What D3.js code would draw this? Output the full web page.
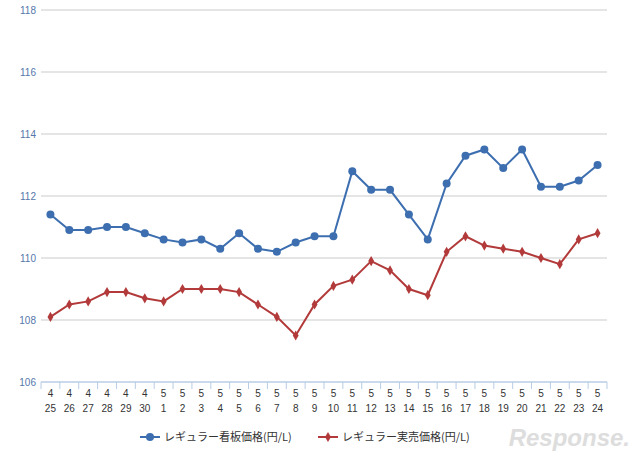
<!DOCTYPE html><html><head><meta charset="utf-8"><script src="https://cdn.jsdelivr.net/npm/d3@7"></script>
<style>body{margin:0;background:#fff}</style></head><body><svg id="c" width="640" height="459"></svg>
<script>
const months=["4","4","4","4","4","4","5","5","5","5","5","5","5","5","5","5","5","5","5","5","5","5","5","5","5","5","5","5","5","5"];
const days=["25","26","27","28","29","30","1","2","3","4","5","6","7","8","9","10","11","12","13","14","15","16","17","18","19","20","21","22","23","24"];
const signPrice=[111.4,110.9,110.9,111.0,111.0,110.8,110.6,110.5,110.6,110.3,110.8,110.3,110.2,110.5,110.7,110.7,112.8,112.2,112.2,111.4,110.6,112.4,113.3,113.5,112.9,113.5,112.3,112.3,112.5,113.0];
const realPrice=[108.1,108.5,108.6,108.9,108.9,108.7,108.6,109.0,109.0,109.0,108.9,108.5,108.1,107.5,108.5,109.1,109.3,109.9,109.6,109.0,108.8,110.2,110.7,110.4,110.3,110.2,110.0,109.8,110.6,110.8];
const yTicks=[106,108,110,112,114,116,118];
const seriesNames=["レギュラー看板価格(円/L)","レギュラー実売価格(円/L)"];
const svg=d3.select("#c");
const L=41,R=607,T=10,B=382;
const x=d3.scaleBand().domain(days.map((d,i)=>i)).range([L,R]);
const y=d3.scaleLinear().domain([106,118]).range([B,T]);
const font="Liberation Sans, Arial, sans-serif";
svg.append("g").selectAll("line").data(yTicks.slice(1)).join("line")
 .attr("x1",L).attr("x2",R).attr("y1",d=>y(d)).attr("y2",d=>y(d)).attr("stroke","#dcdcdc").attr("stroke-width",1.3);
svg.append("g").selectAll("text").data(yTicks).join("text").attr("x",36).attr("y",d=>y(d)+4)
 .attr("text-anchor","end").attr("font-family",font).attr("font-size",10).attr("fill","#5577aa").text(d=>d);
svg.append("line").attr("x1",L).attr("x2",R).attr("y1",B).attr("y2",B).attr("stroke","#b8cce4").attr("stroke-width",1.3);
svg.append("g").selectAll("line").data(d3.range(31)).join("line")
 .attr("x1",i=>L+i*x.step()).attr("x2",i=>L+i*x.step()).attr("y1",B).attr("y2",B+7).attr("stroke","#b8cce4");
const xl=svg.append("g").selectAll("text").data(days).join("text").attr("text-anchor","middle")
 .attr("font-family",font).attr("font-size",10).attr("fill","#333");
xl.append("tspan").attr("x",(d,i)=>x(i)+x.bandwidth()/2).attr("y",397).text((d,i)=>months[i]);
xl.append("tspan").attr("x",(d,i)=>x(i)+x.bandwidth()/2).attr("y",412).text(d=>d);
const cx=i=>x(i)+x.bandwidth()/2;
const line=d3.line().x((d,i)=>cx(i)).y(d=>y(d));
svg.append("path").datum(signPrice).attr("d",line).attr("fill","none").attr("stroke","#3d6fb0").attr("stroke-width",2);
svg.append("g").selectAll("circle").data(signPrice).join("circle").attr("cx",(d,i)=>cx(i)).attr("cy",d=>y(d)).attr("r",4).attr("fill","#3d6fb0");
svg.append("path").datum(realPrice).attr("d",line).attr("fill","none").attr("stroke","#b23a3a").attr("stroke-width",2);
const dia=d3.symbol().type(d3.symbolDiamond).size(30);
svg.append("g").selectAll("path").data(realPrice).join("path").attr("d",dia).attr("transform",(d,i)=>`translate(${cx(i)},${y(d)})`).attr("fill","#b23a3a");
// legend
const lg=svg.append("g");
lg.append("line").attr("x1",140).attr("x2",160).attr("y1",437).attr("y2",437).attr("stroke","#3d6fb0").attr("stroke-width",2);
lg.append("circle").attr("cx",150).attr("cy",437).attr("r",4).attr("fill","#3d6fb0");
lg.append("text").attr("x",164).attr("y",441).attr("font-family","Noto Sans CJK JP").attr("font-size",11).attr("fill","#333").text(seriesNames[0]);
lg.append("line").attr("x1",318).attr("x2",338).attr("y1",437).attr("y2",437).attr("stroke","#b23a3a").attr("stroke-width",2);
lg.append("path").attr("d",dia).attr("transform","translate(328,437)").attr("fill","#b23a3a");
lg.append("text").attr("x",342).attr("y",441).attr("font-family","Noto Sans CJK JP").attr("font-size",11).attr("fill","#333").text(seriesNames[1]);
svg.append("text").attr("x",630).attr("y",446).attr("text-anchor","end").attr("font-family",font).attr("font-style","italic").attr("font-weight","bold").attr("font-size",24).attr("fill","#ddd").text("Response.");
</script></body></html>
